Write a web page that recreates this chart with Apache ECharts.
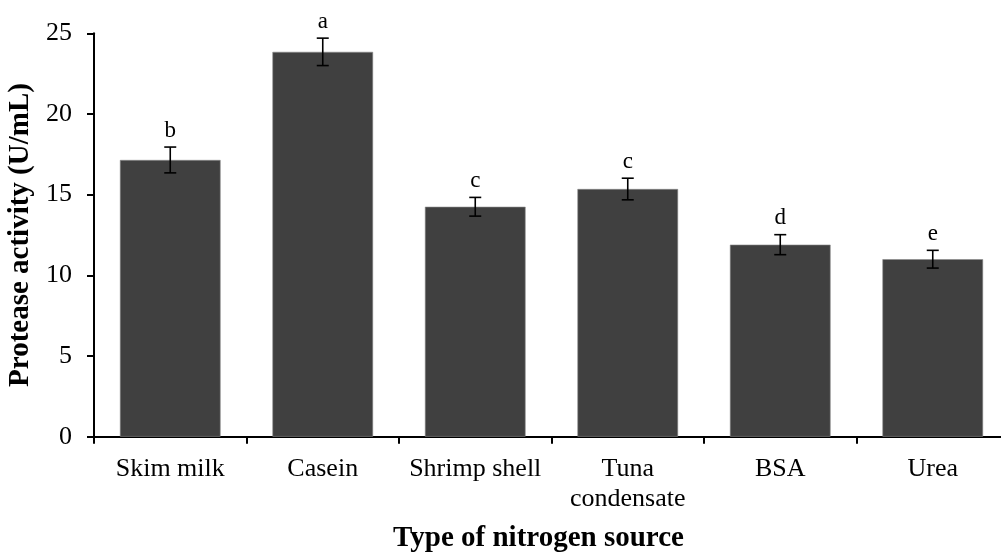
<!DOCTYPE html>
<html>
<head>
<meta charset="utf-8">
<script src="https://cdn.jsdelivr.net/npm/echarts@6/dist/echarts.min.js"></script>
<style>
  html, body { margin: 0; padding: 0; background: #fff; }
  #chart { width: 1001px; height: 553px; }
</style>
</head>
<body>
<div id="chart"></div>
<script>
// Nitrogen sources tested
const categories = ['Skim milk', 'Casein', 'Shrimp shell', 'Tuna\ncondensate', 'BSA', 'Urea'];
// Mean protease activity (U/mL)
const activity = [17.15, 23.85, 14.25, 15.35, 11.9, 11.0];
// Standard deviation
const errors = [0.8, 0.85, 0.58, 0.67, 0.62, 0.55];
// Significance letters
const letters = ['b', 'a', 'c', 'c', 'd', 'e'];
// Y-axis ticks
const yTicks = [0, 5, 10, 15, 20, 25];

const FONT = '"Liberation Serif", "Times New Roman", serif';

const chart = echarts.init(document.getElementById('chart'));

const errorData = activity.map((v, i) => [i, v, errors[i]]);

chart.setOption({
  animation: false,
  backgroundColor: '#ffffff',
  // the x axis runs slightly past the right edge of the canvas
  grid: {
    left: 94, top: 33.3, width: 915, height: 403.4,
    containLabel: false, outerBoundsMode: 'none'
  },
  xAxis: {
    type: 'category',
    data: categories,
    name: 'Type of nitrogen source',
    nameLocation: 'middle',
    nameGap: 87,
    nameTextStyle: {
      fontFamily: FONT, fontWeight: 'bold', fontSize: 29, color: '#000',
      lineHeight: 29, padding: [0, 26, 0, 0]
    },
    axisLine: { lineStyle: { color: '#000', width: 2 } },
    axisTick: { show: true, length: 7, lineStyle: { color: '#000', width: 2 } },
    axisLabel: { fontFamily: FONT, fontSize: 26, color: '#000', margin: 17, lineHeight: 30, interval: 0 }
  },
  yAxis: {
    type: 'value',
    min: yTicks[0],
    max: yTicks[yTicks.length - 1],
    interval: 5,
    name: 'Protease activity (U/mL)',
    nameLocation: 'middle',
    nameGap: 51,
    nameTextStyle: { fontFamily: FONT, fontWeight: 'bold', fontSize: 29, color: '#000', lineHeight: 29 },
    axisLine: { show: true, lineStyle: { color: '#000', width: 2 } },
    axisTick: { show: true, length: 7, lineStyle: { color: '#000', width: 2 } },
    axisLabel: { fontFamily: FONT, fontSize: 26, color: '#000', margin: 22 },
    splitLine: { show: false }
  },
  series: [
    {
      type: 'bar',
      data: activity,
      barCategoryGap: '34%',
      itemStyle: { color: '#404040', borderColor: '#8a8a8a', borderWidth: 0.6 }
    },
    {
      type: 'custom',
      data: errorData,
      z: 10,
      renderItem: function (params, api) {
        const x = api.value(0);
        const mean = api.value(1);
        const err = api.value(2);
        const letter = letters[params.dataIndex];
        const hi = api.coord([x, mean + err]);
        const lo = api.coord([x, mean - err]);
        const cap = 6;
        const style = { stroke: '#000', lineWidth: 1.6 };
        return {
          type: 'group',
          children: [
            { type: 'line', shape: { x1: hi[0], y1: hi[1], x2: lo[0], y2: lo[1] }, style: style },
            { type: 'line', shape: { x1: hi[0] - cap, y1: hi[1], x2: hi[0] + cap, y2: hi[1] }, style: style },
            { type: 'line', shape: { x1: lo[0] - cap, y1: lo[1], x2: lo[0] + cap, y2: lo[1] }, style: style },
            {
              type: 'text',
              style: {
                text: letter, x: hi[0], y: hi[1] - 5,
                textAlign: 'center', textVerticalAlign: 'bottom',
                font: '23px ' + FONT, fill: '#000'
              }
            }
          ]
        };
      }
    }
  ]
});
</script>
</body>
</html>
